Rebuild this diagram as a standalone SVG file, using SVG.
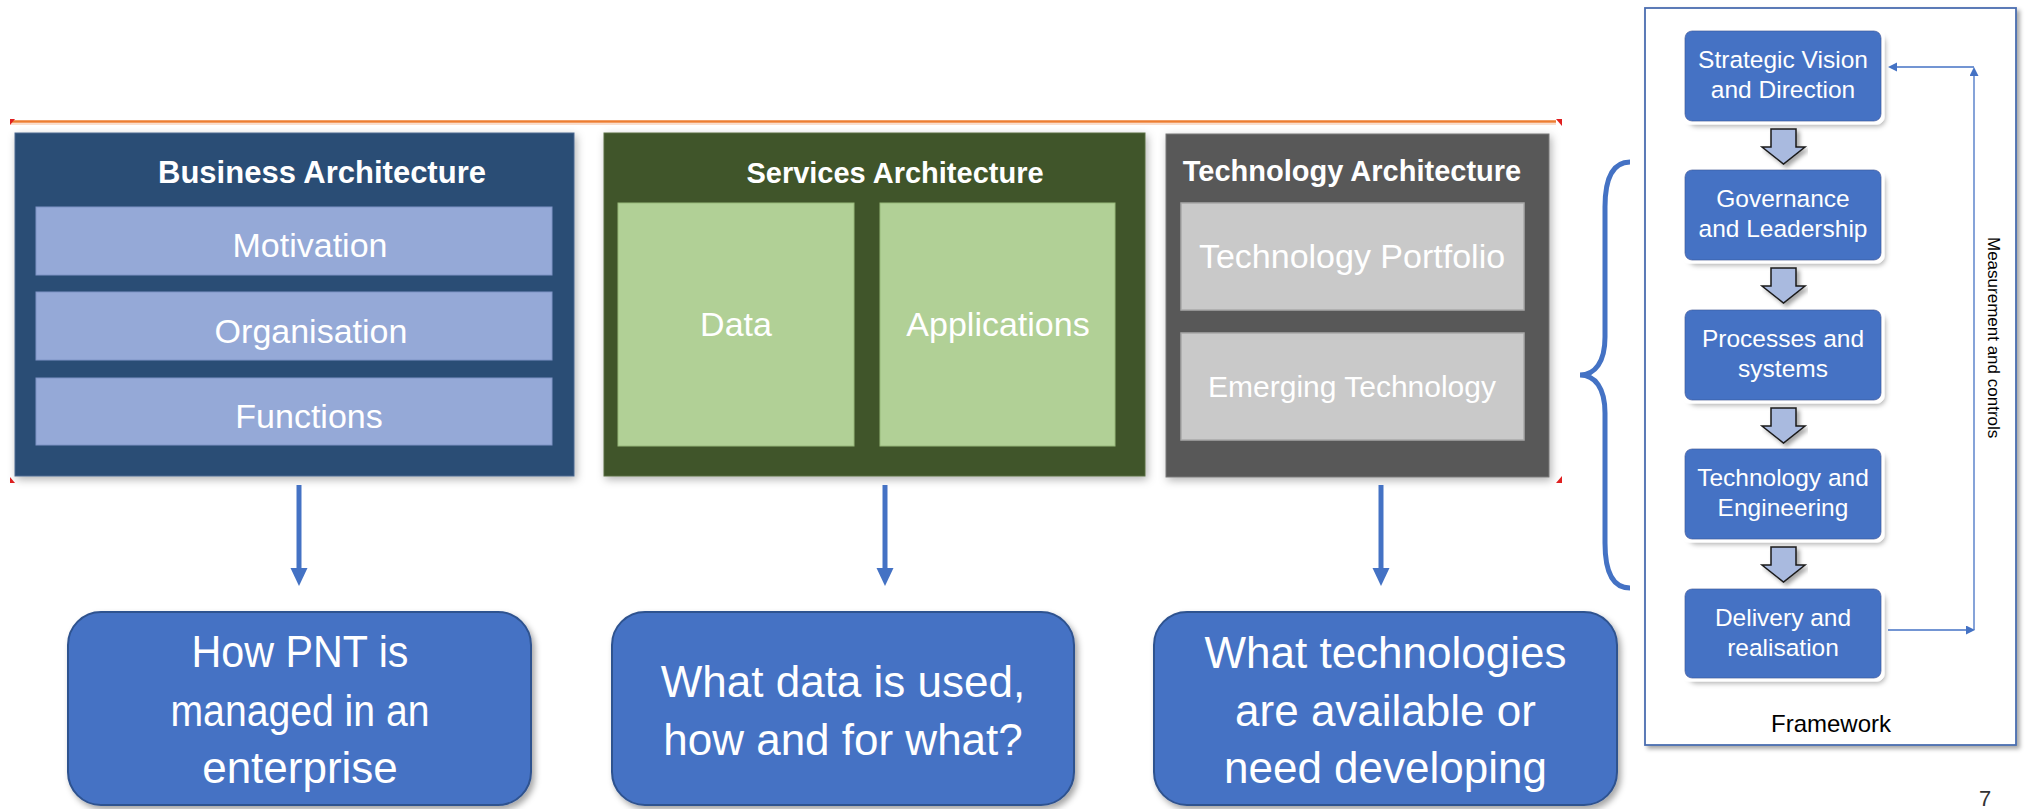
<svg xmlns="http://www.w3.org/2000/svg" width="2029" height="809" viewBox="0 0 2029 809">
<defs>
<style>
text{font-family:'Liberation Sans',Arial,sans-serif}
.title{font-weight:bold;fill:#fff;text-anchor:middle}
.sub{fill:#fff;text-anchor:middle;font-size:34px}
.sub30{fill:#fff;text-anchor:middle;font-size:30px}
.q{fill:#fff;text-anchor:middle;font-size:44px}
.fw{fill:#fff;text-anchor:middle;font-size:24.5px}
.bbox{fill:#95A9D7;stroke:#7F94C6;stroke-width:1}
.gbox{fill:#B1D096;stroke:#97B97A;stroke-width:1}
.tbox{fill:#C9C9C9;stroke:#A8A8A8;stroke-width:1.5}
.qbox{fill:#4472C4;stroke:#2F528F;stroke-width:2}
.node{fill:#4472C4;stroke:#3A62AB;stroke-width:1}
.barrow{fill:#A9BADF;stroke:#1a1a1a;stroke-width:1.5}
.conn{stroke:#4472C4;stroke-width:5;fill:none}
.thin{stroke:#4472C4;stroke-width:1.3;fill:none}
</style>
<filter id="pshadow" x="-5%" y="-5%" width="110%" height="115%">
<feGaussianBlur in="SourceAlpha" stdDeviation="4"/>
<feOffset dx="2" dy="3" result="b"/>
<feFlood flood-color="#000" flood-opacity="0.3"/>
<feComposite in2="b" operator="in"/>
<feMerge><feMergeNode/><feMergeNode in="SourceGraphic"/></feMerge>
</filter>
<filter id="nshadow" x="-10%" y="-10%" width="125%" height="135%">
<feMorphology in="SourceAlpha" operator="dilate" radius="3" result="d"/>
<feFlood flood-color="#fff"/>
<feComposite in2="d" operator="in" result="w"/>
<feGaussianBlur in="SourceAlpha" stdDeviation="2.5"/>
<feOffset dx="4" dy="5" result="b"/>
<feFlood flood-color="#000" flood-opacity="0.3"/>
<feComposite in2="b" operator="in" result="s"/>
<feMerge><feMergeNode in="s"/><feMergeNode in="w"/><feMergeNode in="SourceGraphic"/></feMerge>
</filter>
<filter id="qshadow" x="-5%" y="-5%" width="115%" height="120%">
<feGaussianBlur in="SourceAlpha" stdDeviation="3"/>
<feOffset dx="3" dy="4" result="b"/>
<feFlood flood-color="#000" flood-opacity="0.35"/>
<feComposite in2="b" operator="in"/>
<feMerge><feMergeNode/><feMergeNode in="SourceGraphic"/></feMerge>
</filter>
<filter id="fshadow" x="-5%" y="-5%" width="110%" height="110%">
<feGaussianBlur in="SourceAlpha" stdDeviation="2"/>
<feOffset dx="3" dy="3" result="b"/>
<feFlood flood-color="#000" flood-opacity="0.35"/>
<feComposite in2="b" operator="in"/>
<feMerge><feMergeNode/><feMergeNode in="SourceGraphic"/></feMerge>
</filter>
<marker id="bigHead" markerUnits="userSpaceOnUse" markerWidth="18" markerHeight="18" viewBox="0 0 18 18" refX="0" refY="8.5" orient="auto">
<path d="M0,0 L18,8.5 L0,17 Z" fill="#4472C4"/>
</marker>
<marker id="smallHead" markerUnits="userSpaceOnUse" markerWidth="10" markerHeight="10" viewBox="0 0 10 10" refX="0" refY="4.5" orient="auto">
<path d="M0,0 L9,4.5 L0,9 Z" fill="#4472C4"/>
</marker>
</defs>

<rect width="2029" height="809" fill="#fff"/>

<g id="screenshot-frame">
<line x1="10" y1="121.5" x2="1556" y2="121.5" stroke="#ED7D31" stroke-width="2.5"/>
<line x1="10" y1="124" x2="1556" y2="124" stroke="#F8D3BC" stroke-width="1.5"/>
<path d="M10,119 L15,119 L10,125 Z" fill="#E02020"/>
<path d="M1556,119 L1562,119 L1562,126 Z" fill="#E02020"/>
<path d="M10,477 L10,483 L15,483 Z" fill="#E02020"/>
<path d="M1562,476 L1562,483 L1556,483 Z" fill="#E02020"/>
</g>

<g id="business-architecture">
<rect x="15" y="133" width="559" height="343" fill="#2C4D75" stroke="#4A6890" stroke-width="1" filter="url(#pshadow)"/>
<text class="title" x="322" y="183" font-size="31">Business Architecture</text>
<rect class="bbox" x="36" y="207" width="516" height="68"/>
<text class="sub" x="310" y="257">Motivation</text>
<rect class="bbox" x="36" y="292" width="516" height="68"/>
<text class="sub" x="311" y="343">Organisation</text>
<rect class="bbox" x="36" y="378" width="516" height="67"/>
<text class="sub" x="309" y="428">Functions</text>
</g>

<g id="services-architecture">
<rect x="604" y="133" width="541" height="343" fill="#3F5429" stroke="#5A6E45" stroke-width="1" filter="url(#pshadow)"/>
<text class="title" x="895" y="183" font-size="29">Services Architecture</text>
<rect class="gbox" x="618" y="203" width="236" height="243"/>
<text class="sub" x="736" y="336">Data</text>
<rect class="gbox" x="880" y="203" width="235" height="243"/>
<text class="sub" x="998" y="336">Applications</text>
</g>

<g id="technology-architecture">
<rect x="1166" y="134" width="383" height="343" fill="#595959" stroke="#777" stroke-width="1" filter="url(#pshadow)"/>
<text class="title" x="1352" y="181" font-size="29">Technology Architecture</text>
<rect class="tbox" x="1181" y="203" width="343" height="107"/>
<text class="sub" x="1352" y="268">Technology Portfolio</text>
<rect class="tbox" x="1181" y="333" width="343" height="107"/>
<text class="sub30" x="1352" y="397">Emerging Technology</text>
</g>

<g id="q-business">
<rect class="qbox" x="68" y="612" width="463" height="193" rx="33" filter="url(#qshadow)"/>
<text class="q" x="300" y="667" textLength="217" lengthAdjust="spacingAndGlyphs">How PNT is</text>
<text class="q" x="300" y="726" textLength="259" lengthAdjust="spacingAndGlyphs">managed in an</text>
<text class="q" x="300" y="783">enterprise</text>
</g>

<g id="q-services">
<rect class="qbox" x="612" y="612" width="462" height="193" rx="33" filter="url(#qshadow)"/>
<text class="q" x="843" y="697">What data is used,</text>
<text class="q" x="843" y="755">how and for what?</text>
</g>

<g id="q-technology">
<rect class="qbox" x="1154" y="612" width="463" height="193" rx="33" filter="url(#qshadow)"/>
<text class="q" x="1385.5" y="668">What technologies</text>
<text class="q" x="1385.5" y="726">are available or</text>
<text class="q" x="1385.5" y="783">need developing</text>
</g>

<g id="brace">
<path d="M1630,162 C1612,162 1605,180 1605,207 L1605,337 C1605,362 1595,375 1580,375 C1595,375 1605,388 1605,413 L1605,543 C1605,570 1612,588 1630,588" fill="none" stroke="#4472C4" stroke-width="5"/>
</g>

<g id="framework">
<rect x="1645" y="8" width="371" height="737" fill="#fff" stroke="#4A6DB0" stroke-width="1.8" filter="url(#fshadow)"/>
<text x="1831" y="732" font-size="24" fill="#000" text-anchor="middle">Framework</text>
<text transform="translate(1988,237) rotate(90)" font-size="17" fill="#000">Measurement and controls</text>
</g>

<g id="node-strategic">
<rect class="node" x="1685" y="31" width="196" height="90" rx="7" filter="url(#nshadow)"/>
<text class="fw" x="1783" y="68">Strategic Vision</text>
<text class="fw" x="1783" y="98">and Direction</text>
</g>
<g id="node-governance">
<rect class="node" x="1685" y="170" width="196" height="90" rx="7" filter="url(#nshadow)"/>
<text class="fw" x="1783" y="207">Governance</text>
<text class="fw" x="1783" y="237">and Leadership</text>
</g>
<g id="node-processes">
<rect class="node" x="1685" y="310" width="196" height="90" rx="7" filter="url(#nshadow)"/>
<text class="fw" x="1783" y="347">Processes and</text>
<text class="fw" x="1783" y="377">systems</text>
</g>
<g id="node-technology">
<rect class="node" x="1685" y="449" width="196" height="90" rx="7" filter="url(#nshadow)"/>
<text class="fw" x="1783" y="486">Technology and</text>
<text class="fw" x="1783" y="516">Engineering</text>
</g>
<g id="node-delivery">
<rect class="node" x="1685" y="589" width="196" height="89" rx="7" filter="url(#nshadow)"/>
<text class="fw" x="1783" y="626">Delivery and</text>
<text class="fw" x="1783" y="656">realisation</text>
</g>

<g id="connectors">
<line class="conn" x1="299" y1="485" x2="299" y2="568" marker-end="url(#bigHead)"/>
<line class="conn" x1="885" y1="485" x2="885" y2="568" marker-end="url(#bigHead)"/>
<line class="conn" x1="1381" y1="485" x2="1381" y2="568" marker-end="url(#bigHead)"/>
<g filter="url(#fshadow)">
<path class="barrow" d="M1771,129 H1796 V147 H1805 L1783.5,164 L1762,147 H1771 Z"/>
<path class="barrow" d="M1771,268 H1796 V286 H1805 L1783.5,303 L1762,286 H1771 Z"/>
<path class="barrow" d="M1771,408 H1796 V426 H1805 L1783.5,443 L1762,426 H1771 Z"/>
<path class="barrow" d="M1771,547 H1796 V565 H1805 L1783.5,582 L1762,565 H1771 Z"/>
</g>
<line class="thin" x1="1888" y1="630" x2="1966" y2="630" marker-end="url(#smallHead)"/>
<line class="thin" x1="1974" y1="630" x2="1974" y2="76" marker-end="url(#smallHead)"/>
<line class="thin" x1="1974" y1="67" x2="1897" y2="67" marker-end="url(#smallHead)"/>
</g>

<g id="page-number">
<text x="1985" y="806" font-size="22" fill="#333" text-anchor="middle">7</text>
</g>
</svg>
